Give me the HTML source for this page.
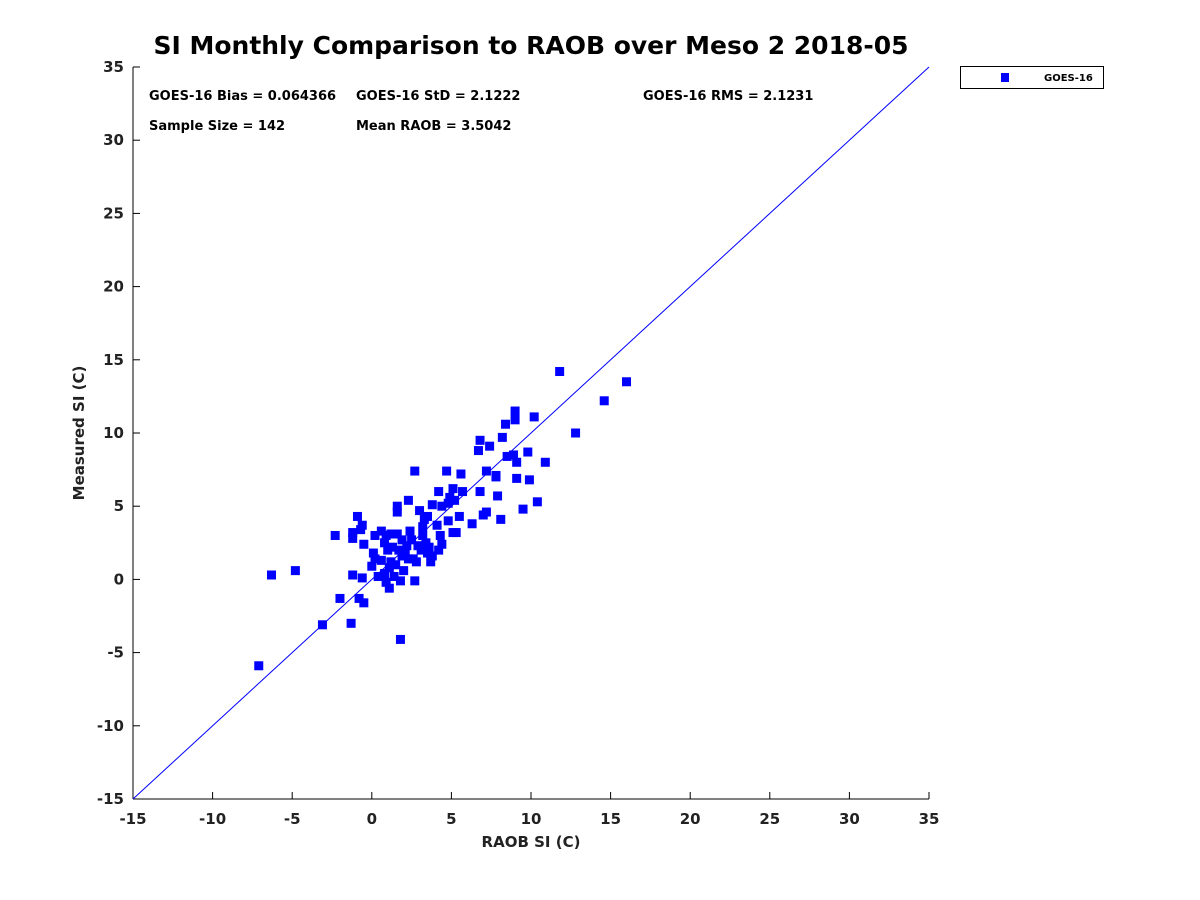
<!DOCTYPE html>
<html><head><meta charset="utf-8"><style>
body{margin:0;background:#fff;}
svg{display:block;font-family:"DejaVu Sans","Liberation Sans",sans-serif;}
</style></head><body>
<svg id="chart" width="1200" height="900" xmlns="http://www.w3.org/2000/svg">
<rect width="1200" height="900" fill="#fff"/>
<text x="531" y="54" text-anchor="middle" font-size="25" font-weight="bold" fill="#000" textLength="755" lengthAdjust="spacingAndGlyphs">SI Monthly Comparison to RAOB over Meso 2 2018-05</text>
<g id="axes"></g>
<g id="marks"></g>
<g font-size="13" font-weight="bold" fill="#000">
<text x="149" y="100">GOES-16 Bias = 0.064366</text>
<text x="356" y="100">GOES-16 StD = 2.1222</text>
<text x="643" y="100">GOES-16 RMS = 2.1231</text>
<text x="149" y="130">Sample Size = 142</text>
<text x="356" y="130">Mean RAOB = 3.5042</text>
</g>
<g>
<rect x="960.5" y="66.5" width="143" height="22" fill="#fff" stroke="#000" stroke-width="1"/>
<rect x="1001" y="73" width="8" height="9" fill="#0000ff"/>
<text x="1044" y="81" font-size="10" font-weight="bold">GOES-16</text>
</g>
<text x="531" y="847" text-anchor="middle" font-size="15" font-weight="bold" fill="#222">RAOB SI (C)</text>
<text transform="translate(84,433) rotate(-90)" text-anchor="middle" font-size="15" font-weight="bold" fill="#222">Measured SI (C)</text>
</svg>
<script>
const xTicks=[-15,-10,-5,0,5,10,15,20,25,30,35];
const yTicks=[-15,-10,-5,0,5,10,15,20,25,30,35];
const raob=[-7.1,-6.3,-4.8,-3.1,-2.3,-2.0,-1.3,-1.2,-1.2,-1.2,-0.9,-0.8,-0.7,-0.6,-0.6,-0.5,-0.5,0.0,0.1,0.2,0.2,0.4,0.6,0.6,0.8,0.8,0.9,0.9,1.0,1.1,1.1,1.2,1.2,1.3,1.4,1.5,1.6,1.6,1.6,1.7,1.8,1.8,1.9,1.9,2.0,2.1,2.2,2.3,2.3,2.4,2.5,2.6,2.7,2.7,2.8,2.9,3.0,3.1,3.2,3.2,3.3,3.4,3.5,3.5,3.6,3.7,3.8,3.8,4.1,4.2,4.2,4.3,4.4,4.4,4.7,4.8,4.8,4.9,5.1,5.1,5.2,5.3,5.5,5.6,5.7,6.3,6.7,6.8,6.8,7.0,7.2,7.2,7.4,7.8,7.8,7.9,8.1,8.2,8.4,8.5,8.9,9.0,9.0,9.1,9.1,9.5,9.8,9.9,10.2,10.4,10.9,11.8,12.8,14.6,16.0];
const measured=[-5.9,0.3,0.6,-3.1,3.0,-1.3,-3.0,0.3,3.2,2.8,4.3,-1.3,3.4,0.1,3.7,-1.6,2.4,0.9,1.8,1.4,3.0,0.2,3.3,1.3,0.4,2.5,3.0,-0.2,2.0,0.8,-0.6,3.1,1.2,2.2,0.2,1.0,4.6,5.0,3.1,2.0,-0.1,-4.1,2.7,1.6,0.6,1.8,2.3,1.4,5.4,3.3,2.7,1.4,7.4,-0.1,1.2,2.3,4.7,2.0,3.6,3.0,4.1,2.5,1.8,4.3,2.2,1.2,1.6,5.1,3.7,6.0,2.0,3.0,5.0,2.4,7.4,4.0,5.2,5.6,6.2,3.2,5.4,3.2,4.3,7.2,6.0,3.8,8.8,9.5,6.0,4.4,7.4,4.6,9.1,7.0,7.1,5.7,4.1,9.7,10.6,8.4,8.5,11.5,10.9,8.0,6.9,4.8,8.7,6.8,11.1,5.3,8.0,14.2,10.0,12.2,13.5];
const NS='http://www.w3.org/2000/svg';
const X0=133,X1=929,Y0=799,Y1=67;
function sx(v){return X0+(v+15)/50*(X1-X0);}
function sy(v){return Y0-(v+15)/50*(Y0-Y1);}
function mk(t,a){const e=document.createElementNS(NS,t);for(const k in a)e.setAttribute(k,a[k]);return e;}
const axes=document.getElementById('axes'),marks=document.getElementById('marks');
let l=mk('line',{x1:X0,y1:Y1,x2:X0,y2:Y0,stroke:'#000','stroke-width':1});


axes.appendChild(l);
l=mk('line',{x1:X0,y1:Y0,x2:X1,y2:Y0,stroke:'#000','stroke-width':1});


axes.appendChild(l);
xTicks.forEach(t=>{
 const tk=mk('line',{x1:sx(t),y1:Y0,x2:sx(t),y2:Y0-7,stroke:'#000'});
 
 
 axes.appendChild(tk);
 const tx=mk('text',{x:sx(t),y:Y0+25,'text-anchor':'middle','font-size':15,'font-weight':'bold',fill:'#222'});
 tx.textContent=t;
 
 
 axes.appendChild(tx);
});
yTicks.forEach(t=>{
 const tk=mk('line',{x1:X0,y1:sy(t),x2:X0+7,y2:sy(t),stroke:'#000'});
 
 
 axes.appendChild(tk);
 const tx=mk('text',{x:X0-9,y:sy(t)+5,'text-anchor':'end','font-size':15,'font-weight':'bold',fill:'#222'});
 tx.textContent=t;
 
 
 axes.appendChild(tx);
});
const ref=mk('line',{x1:sx(-15),y1:sy(-15),x2:sx(35),y2:sy(35),stroke:'#0000ff','stroke-width':1});


marks.appendChild(ref);
raob.forEach((v,i)=>{
 const r=mk('rect',{x:sx(v)-4.5,y:sy(measured[i])-4.5,width:9,height:9,fill:'#0000ff'});
 
 
 marks.appendChild(r);
});
</script>
</body></html>
